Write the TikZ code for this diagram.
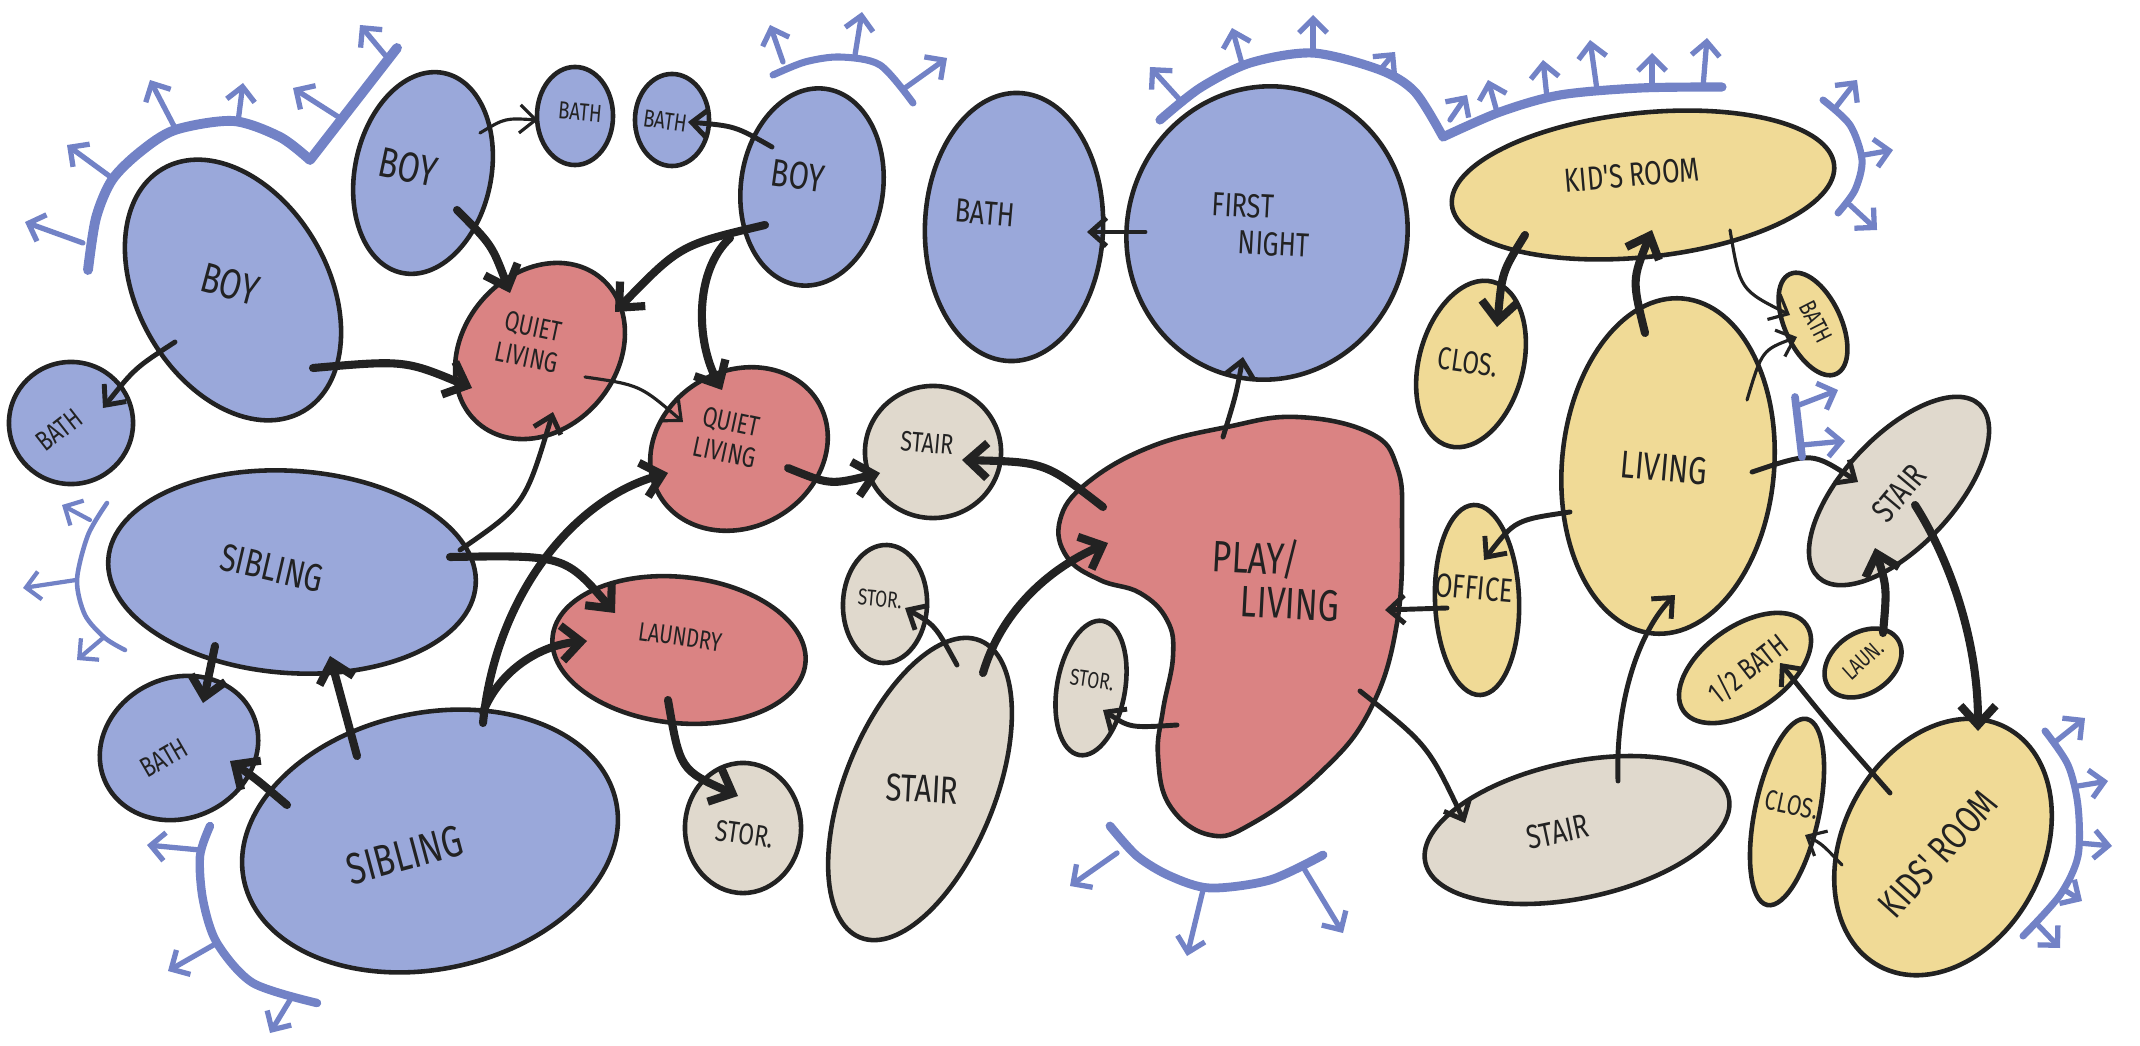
\documentclass[tikz,border=0pt]{standalone}
\usepackage{fontspec}
\usepackage{tikz}
\usetikzlibrary{arrows.meta,shapes.geometric,calc}
\newfontfamily\hand{Fira Sans}

\definecolor{ink}{HTML}{222222}
\definecolor{roomblue}{HTML}{9AA8DA}
\definecolor{roomred}{HTML}{DA8383}
\definecolor{roombeige}{HTML}{E0D9CD}
\definecolor{roomyellow}{HTML}{F0DA96}
\definecolor{viewblue}{HTML}{7282C6}

\tikzset{
  room/.style={ellipse, draw=ink, line width=1.3pt, inner sep=0pt},
  sz/.style 2 args={minimum width=#1*0.02cm, minimum height=#2*0.02cm},
  bl/.style={room, fill=roomblue},
  rd/.style={room, fill=roomred},
  bg/.style={room, fill=roombeige},
  yl/.style={room, fill=roomyellow},
  lbl/.style 2 args={font=\hand\fontsize{#1}{#1}\selectfont, text=ink, align=center, inner sep=0pt,
    rotate=#2, xscale=0.76},
  link/.style={draw=ink, line width=1.4pt, line cap=round, -{Straight Barb[length=4.5pt,width=8pt]}},
  link thin/.style={link, line width=0.9pt},
  link thick/.style={link, line width=2.3pt, -{Straight Barb[length=5.5pt,width=10pt]}},
  view/.style={draw=viewblue, line width=2.4pt, line cap=round, line join=round},
  viewarrow/.style={draw=viewblue, line width=1.5pt, line cap=round, -{Straight Barb[length=4pt,width=8pt]}},
}

\begin{document}
\begin{tikzpicture}[x=0.01cm, y=-0.01cm]
\useasboundingbox (0,0) rectangle (2140,1046);

% blue rooms
\node[bl, sz={140}{95}, rotate=-60] (boy1) at (233,290) {};
\node[bl, sz={62}{61}] (bath1) at (71,423) {};
\node[bl, sz={102}{68}, rotate=78] (boy2) at (423,173) {};
\node[bl, sz={38}{49}] (bath2) at (575,116) {};
\node[bl, sz={37}{46}] (bath3) at (672,120) {};
\node[bl, sz={99}{71}, rotate=82] (boy3) at (812,187) {};
\node[bl, sz={134}{89}, rotate=88] (bathB) at (1014,227) {};
\node[bl, sz={147}{140}, rotate=75] (first) at (1267,233) {};
\node[bl, sz={184}{101}, rotate=-4] (sib1) at (292,572) {};
\node[bl, sz={81}{70}, rotate=25] (bath4) at (179,748) {};
\node[bl, sz={190}{128}, rotate=12] (sib2) at (430,841) {};

% red rooms
\node[rd, sz={95}{77}, rotate=50] (ql1) at (540,351) {};
\node[rd, sz={92}{78}, rotate=30] (ql2) at (739,449) {};
\node[rd, sz={127}{73}, rotate=-6] (laundry) at (679,650) {};
\draw[draw=ink, line width=1.3pt, fill=roomred] plot[smooth cycle, tension=0.7] coordinates {
  (1087,483) (1150,447) (1227,427) (1297,417) (1370,433) (1397,467) (1402,523)
  (1397,623) (1370,710) (1320,773) (1253,823) (1210,835) (1170,806) (1158,756)
  (1163,710) (1173,656) (1167,620) (1140,593) (1100,580) (1067,557) (1060,520)};

% stairs and storage
\node[bg, sz={68}{66}] (stair1) at (933,452) {};
\node[bg, sz={59}{42}, rotate=88] (stor1) at (885,604) {};
\node[bg, sz={65}{58}, rotate=90] (stor2) at (743,828) {};
\node[bg, sz={160}{75}, rotate=68] (stair2) at (920,789) {};
\node[bg, sz={68}{34}, rotate=80] (stor3) at (1091,688) {};
\node[bg, sz={155}{68}, rotate=12] (stair3) at (1577,830) {};
\node[bg, sz={118}{55}, rotate=47] (stair4) at (1899,491) {};

% yellow rooms
\node[yl, sz={192}{72}, rotate=6] (kids1) at (1643,185) {};
\node[yl, sz={85}{52}, rotate=75] (clos1) at (1471,364) {};
\node[yl, sz={55}{28}, rotate=-65] (bath5) at (1813,324) {};
\node[yl, sz={168}{106}, rotate=85] (living) at (1668,466) {};
\node[yl, sz={95}{42}, rotate=92] (office) at (1477,600) {};
\node[yl, sz={75}{42}, rotate=35] (hbath) at (1745,668) {};
\node[yl, sz={42}{30}, rotate=35] (laun) at (1863,663) {};
\node[yl, sz={95}{32}, rotate=78] (clos2) at (1787,812) {};
\node[yl, sz={135}{100}, rotate=62] (kids2) at (1943,847) {};

% labels
\node[lbl={12}{-15}] (boy1t) at (230,284) {BOY};
\node[lbl={8}{38}] (bath1t) at (59,430) {BATH};
\node[lbl={12}{-12}] (boy2t) at (408,167) {BOY};
\node[lbl={7}{-5}] (bath2t) at (580,112) {BATH};
\node[lbl={7}{-8}] (bath3t) at (665,121) {BATH};
\node[lbl={11}{-8}] (boy3t) at (798,176) {BOY};
\node[lbl={9.5}{-5}] (bathBt) at (985,213) {BATH};
\node[lbl={9.5}{-3}, align=left] (firstt) at (1261,225) {FIRST\\[1pt]\hspace{1.1em}NIGHT};
\node[lbl={8}{-12}] (ql1t) at (530,342) {QUIET\\[1pt]LIVING};
\node[lbl={8}{-12}] (ql2t) at (728,437) {QUIET\\[1pt]LIVING};
\node[lbl={7.5}{-8}] (laundryt) at (680,637) {LAUNDRY};
\node[lbl={12.5}{-3}, align=left] (play) at (1276,579) {PLAY/\\\hspace{0.9em}LIVING};
\node[lbl={8}{-5}] (stair1t) at (927,443) {STAIR};
\node[lbl={6.5}{-5}] (stor1t) at (880,599) {STOR.};
\node[lbl={8.5}{-8}] (stor2t) at (745,834) {STOR.};
\node[lbl={11}{-3}] (stair2t) at (922,789) {STAIR};
\node[lbl={6.5}{-8}] (stor3t) at (1092,680) {STOR.};
\node[lbl={9.5}{12}] (stair3t) at (1558,832) {STAIR};
\node[lbl={9.5}{5}] (kids1t) at (1632,175) {KID'S ROOM};
\node[lbl={9}{-8}] (clos1t) at (1468,362) {CLOS.};
\node[lbl={7}{-63}] (bath5t) at (1816,322) {BATH};
\node[lbl={11}{-5}] (livingt) at (1664,468) {LIVING};
\node[lbl={9.5}{-5}] (officet) at (1474,588) {OFFICE};
\node[lbl={9.5}{50}] (stair4t) at (1899,493) {STAIR};
\node[lbl={8.5}{38}] (hbatht) at (1748,669) {1/2 BATH};
\node[lbl={6.5}{42}] (launt) at (1863,660) {LAUN.};
\node[lbl={8}{-12}] (clos2t) at (1792,805) {CLOS.};
\node[lbl={11}{48}] (kids2t) at (1938,854) {KIDS' ROOM};
\node[lbl={11}{-13}] (sib1t) at (272,568) {SIBLING};
\node[lbl={8}{30}] (bath4t) at (164,758) {BATH};
\node[lbl={12.5}{15}] (sib2t) at (405,855) {SIBLING};

% connectors
\draw[link] ($(boy1)+(-58,52)$) .. controls (135,368) .. ($(bath1)+(32,-15)$);
\draw[link thick] ($(boy1)+(80,78)$) .. controls (405,360) .. ($(ql1)+(-68,37)$);
\draw[link thin] ($(boy2)+(57,-40)$) .. controls (505,118) .. ($(bath2)+(-37,4)$);
\draw[link thick] ($(boy2)+(34,37)$) .. controls (492,245) .. ($(ql1)+(-30,-58)$);
\draw[link] ($(boy3)+(-40,-40)$) .. controls (735,126) .. ($(bath3)+(16,2)$);
\draw[link thick] ($(boy3)+(-47,38)$) .. controls (680,245) .. ($(ql1)+(75,-39)$);
\draw[link thick] ($(boy3)+(-82,51)$) .. controls (695,270) and (695,340) .. ($(ql2)+(-17,-59)$);
\draw[link thin] ($(ql1)+(45,26)$) .. controls (640,385) .. ($(ql2)+(-56,-27)$);
\draw[link thick] ($(ql2)+(49,19)$) .. controls (830,485) .. ($(stair1)+(-53,21)$);
\draw[link thick] ($(play)+(-173,-72)$) .. controls (1045,462) .. ($(stair1)+(29,8)$);
\draw[link] ($(first)+(-122,-1)$) -- ($(bathB)+(73,5)$);
\draw[link] ($(play)+(-53,-142)$) .. controls (1236,395) .. ($(first)+(-24,124)$);
\draw[link thick] ($(kids1)+(-118,50)$) .. controls (1502,272) .. ($(clos1)+(26,-37)$);
\draw[link thick] ($(living)+(-23,-133)$) .. controls (1632,280) .. ($(kids1)+(9,45)$);
\draw[link thin] ($(kids1)+(87,45)$) .. controls (1740,290) .. ($(bath5)+(-23,-9)$);
\draw[link thin] ($(living)+(79,-66)$) .. controls (1762,350) .. ($(bath5)+(-16,13)$);
\draw[link] ($(living)+(84,6)$) .. controls (1812,452) .. ($(stair4)+(-41,-9)$);
\draw[link] ($(living)+(-98,46)$) .. controls (1515,520) .. ($(office)+(7,-40)$);
\draw[link] ($(office)+(-30,8)$) -- ($(play)+(109,31)$);
\draw[link] ($(play)+(-99,146)$) .. controls (1130,728) .. ($(stor3)+(12,22)$);
\draw[link] ($(play)+(84,112)$) .. controls (1428,745) .. ($(stair3)+(-112,-7)$);
\draw[link] ($(stair3)+(41,-49)$) .. controls (1615,700) and (1640,630) .. ($(living)+(7,129)$);
\draw[link] ($(kids2)+(-53,-54)$) .. controls (1830,725) .. ($(hbath)+(35,-5)$);
\draw[link thin] ($(kids2)+(-101,18)$) .. controls (1822,844) .. ($(clos2)+(18,23)$);
\draw[link thick] ($(laun)+(20,-30)$) .. controls (1887,588) .. ($(stair4)+(-24,57)$);
\draw[link thick] ($(stair4)+(16,14)$) .. controls (1950,560) and (1978,640) .. ($(kids2)+(35,-116)$);
\draw[link thick] ($(sib1)+(-77,74)$) -- ($(bath4)+(24,-45)$);
\draw[link thick] ($(sib2)+(-73,-85)$) -- ($(sib1)+(38,84)$);
\draw[link thick] ($(sib2)+(-143,-36)$) .. controls (255,778) .. ($(bath4)+(51,13)$);
\draw[link thick] ($(sib1)+(158,-15)$) .. controls (565,555) .. ($(laundry)+(-64,-37)$);
\draw[link] ($(sib1)+(168,-22)$) .. controls (525,505) .. ($(ql1)+(13,61)$);
\draw[link thick] ($(sib2)+(53,-118)$) .. controls (495,600) and (570,500) .. ($(ql2)+(-71,24)$);
\draw[link thick] ($(sib2)+(53,-129)$) .. controls (500,670) and (540,645) .. ($(laundry)+(-92,-9)$);
\draw[link thick] ($(laundry)+(-11,50)$) .. controls (680,770) .. ($(stor2)+(-5,-32)$);
\draw[link] ($(stair2)+(37,-124)$) .. controls (935,625) .. ($(stor1)+(20,4)$);
\draw[link thick] ($(stair2)+(63,-116)$) .. controls (1000,615) and (1045,570) .. ($(play)+(-168,-36)$);

% views
\draw[view, line width=2.8pt] plot[smooth] coordinates {(88,270) (96,218) (112,180) (140,152) (175,130) (233,121) (280,137) (310,160)} -- (397,48);
\foreach \a/\b/\c/\d in {83/243/25/222, 112/178/67/145, 175/128/150/80, 238/122/243/83, 340/118/293/88, 385/55/360/25}
  \draw[viewarrow] (\a,\b) -- (\c,\d);
\draw[view, line width=2pt] plot[smooth] coordinates {(773,75) (805,62) (840,57) (880,65) (913,103)};
\foreach \a/\b/\c/\d in {783/62/770/25, 855/55/862/12, 905/88/947/58}
  \draw[viewarrow] (\a,\b) -- (\c,\d);
\draw[view, line width=2.6pt] plot[smooth] coordinates {(1160,120) (1200,88) (1250,63) (1313,53) (1380,70) (1415,92) (1443,137)}
  -- plot[smooth] coordinates {(1443,137) (1500,112) (1560,95) (1640,88) (1722,87)};
\foreach \a/\b/\c/\d in {1180/100/1150/67, 1242/64/1232/28, 1313/53/1313/15, 1380/70/1395/52, 1450/120/1467/95,
  1497/112/1488/80, 1547/98/1543/60, 1597/90/1590/40, 1652/88/1652/53, 1703/87/1707/38}
  \draw[viewarrow] (\a,\b) -- (\c,\d);
\draw[view, line width=2pt] plot[smooth] coordinates {(1823,100) (1850,125) (1862,160) (1855,190) (1838,213)};
\foreach \a/\b/\c/\d in {1836/107/1857/80, 1864/155/1893/150, 1850/205/1877/230}
  \draw[viewarrow] (\a,\b) -- (\c,\d);
\draw[view, line width=2.2pt] (1795,397) -- (1802,457);
\foreach \a/\b/\c/\d in {1799/405/1838/390, 1802/445/1845/441}
  \draw[viewarrow] (\a,\b) -- (\c,\d);
\draw[view, line width=1.3pt] plot[smooth] coordinates {(107,503) (88,535) (77,580) (85,615) (105,638) (125,650)};
\foreach \a/\b/\c/\d in {90/520/62/505, 76/580/23/588, 103/638/77/660}
  \draw[viewarrow, line width=1.2pt] (\a,\b) -- (\c,\d);
\draw[view, line width=2.4pt] plot[smooth] coordinates {(210,826) (200,856) (203,900) (217,943) (253,983) (317,1003)};
\foreach \a/\b/\c/\d in {200/850/147/845, 217/943/168/971, 290/1000/270/1033}
  \draw[viewarrow] (\a,\b) -- (\c,\d);
\draw[view, line width=2.5pt] plot[smooth] coordinates {(1110,826) (1137,856) (1170,876) (1210,888) (1270,880) (1323,855)};
\foreach \a/\b/\c/\d in {1117/853/1070/886, 1203/890/1187/956, 1303/867/1343/933}
  \draw[viewarrow] (\a,\b) -- (\c,\d);
\draw[view, line width=2pt] plot[smooth] coordinates {(2045,731) (2068,765) (2078,806) (2078,856) (2060,895) (2023,936)};
\foreach \a/\b/\c/\d in {2055/742/2085/718, 2078/786/2108/781, 2079/843/2112/846, 2066/891/2082/901, 2038/925/2060/948}
  \draw[viewarrow] (\a,\b) -- (\c,\d);
\end{tikzpicture}
\end{document}
